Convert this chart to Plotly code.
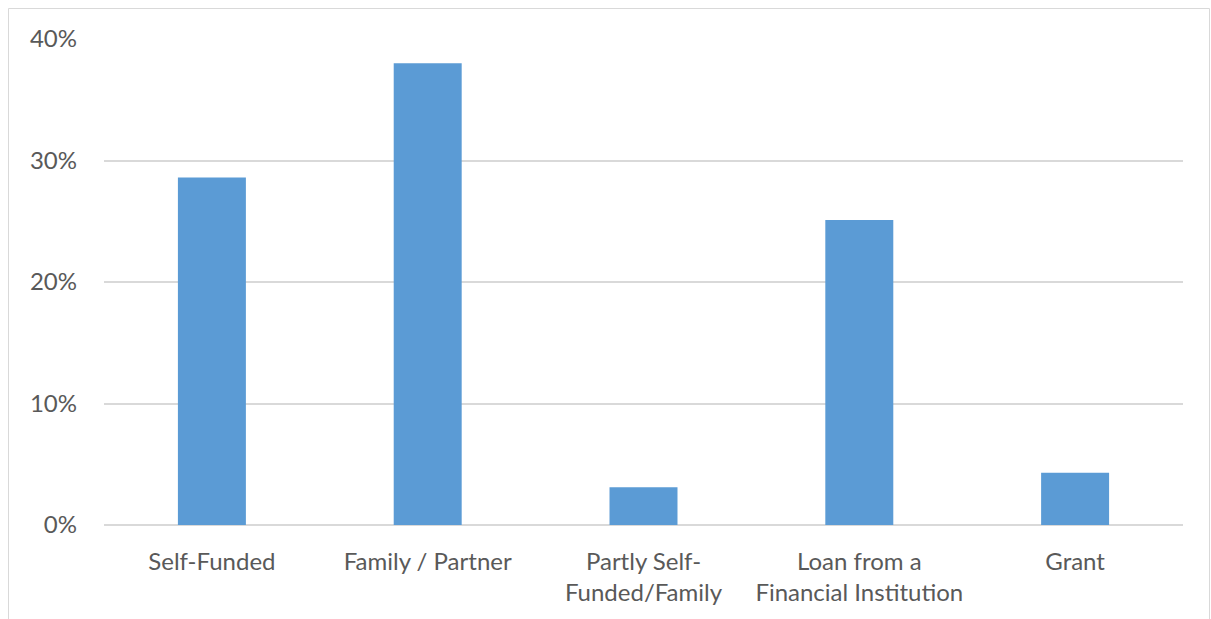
import plotly.graph_objects as go

categories = ["Self-Funded", "Family / Partner", "Partly Self-<br>Funded/Family",
              "Loan from a<br>Financial Institution", "Grant"]
values = [0.286, 0.380, 0.031, 0.251, 0.043]
tick_vals = [0, 0.1, 0.2, 0.3, 0.4]
tick_text = ["0%", "10%", "20%", "30%", "40%"]

W, H = 1211, 619
ml, mr, mt, mb = 104, 28, 39, 94
pw, ph = W - ml - mr, H - mt - mb

fig = go.Figure(go.Bar(x=categories, y=values, marker_color="#5B9BD5",
                       marker_line_width=0, width=0.315))

def px_x(x):
    return (x - ml) / pw

def px_y(y):
    return (H - mb - y) / ph

fig.add_shape(type="rect", xref="paper", yref="paper",
              x0=px_x(8.5), x1=px_x(1209.5), y0=px_y(640), y1=px_y(8.5),
              line=dict(color="#d9d9d9", width=1), fillcolor="rgba(0,0,0,0)")

font = dict(family="Lato, Open Sans, sans-serif", size=24, color="#595959")
fig.update_layout(
    width=W, height=H, margin=dict(l=ml, r=mr, t=mt, b=mb),
    paper_bgcolor="white", plot_bgcolor="white", showlegend=False,
    bargap=0.685, font=font,
    xaxis=dict(showgrid=False, showline=False, zeroline=False, ticks="",
               ticklabelstandoff=20, tickfont=font),
    yaxis=dict(range=[0, 0.4], tickvals=tick_vals, ticktext=tick_text,
               showgrid=True, gridcolor="#d9d9d9", gridwidth=1.5,
               zeroline=True, zerolinecolor="#d9d9d9", zerolinewidth=1.5,
               showline=False, ticks="", ticklabelstandoff=26, tickfont=font),
)
fig.write_html("out.html")
